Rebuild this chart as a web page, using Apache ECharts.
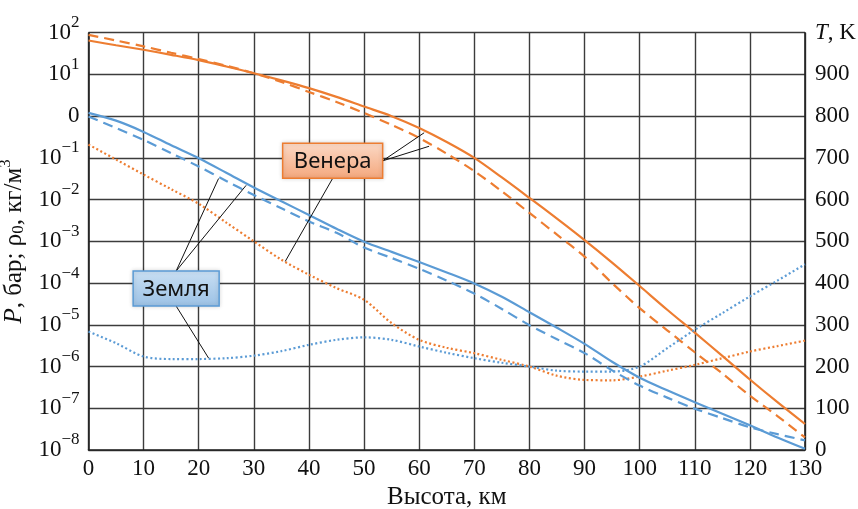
<!DOCTYPE html>
<html>
<head>
<meta charset="utf-8">
<script src="https://cdn.jsdelivr.net/npm/echarts@6/dist/echarts.min.js"></script>
<style>html,body{margin:0;padding:0;background:#fff}#main{width:858px;height:509px}</style>
</head>
<body>
<div id="main"></div>
<script>
// высота, км
var heights = [0, 5, 10, 15, 20, 25, 30, 35, 40, 45, 50, 55, 60, 65, 70, 75, 80, 85, 90, 95, 100, 105, 110, 115, 120, 125, 130];

// Венера
var venusRho = [65, 50, 39, 29.5, 22, 15.5, 10.7, 7.2, 4.7, 2.9, 1.7, 1.0, 0.52, 0.24, 0.10, 3.4e-2, 1.1e-2, 3.5e-3, 1.07e-3, 3.1e-4, 8.5e-5, 2.3e-5, 6.5e-6, 1.8e-6, 4.9e-7, 1.4e-7, 4.2e-8];
var venusP = [89, 65, 47, 33, 23.4, 16.2, 10.7, 6.6, 3.8, 2.19, 1.19, 0.62, 0.30, 0.126, 0.048, 1.58e-2, 4.8e-3, 1.45e-3, 4.3e-4, 1.0e-4, 2.5e-5, 7.4e-6, 2.2e-6, 6.8e-7, 2.0e-7, 6.5e-8, 2.0e-8];
var venusT = [732, 696, 660, 625, 590, 545, 500, 456, 420, 388, 360, 304, 264, 245, 232, 216, 200, 178, 168, 167, 176, 190, 204, 220, 236, 249, 262];

// Земля
var earthRho = [1.2, 0.78, 0.42, 0.20, 0.098, 0.044, 1.95e-2, 9.1e-3, 4.3e-3, 2.0e-3, 9.8e-4, 5.6e-4, 3.2e-4, 1.8e-4, 9.8e-5, 4.7e-5, 2.0e-5, 8.5e-6, 3.5e-6, 1.3e-6, 5.4e-7, 2.7e-7, 1.4e-7, 7.4e-8, 3.9e-8, 2.0e-8, 1.07e-8];
var earthP = [0.98, 0.52, 0.27, 0.13, 0.062, 0.028, 1.29e-2, 6.2e-3, 3.0e-3, 1.6e-3, 7.1e-4, 4.0e-4, 2.2e-4, 1.15e-4, 5.6e-5, 2.4e-5, 9.8e-6, 4.5e-6, 2.1e-6, 8.1e-7, 3.5e-7, 1.8e-7, 9.8e-8, 5.8e-8, 3.5e-8, 2.4e-8, 1.7e-8];
var earthT = [284, 256, 224, 218, 218, 220, 226, 237, 252, 264, 270, 264, 248, 233, 220, 209, 200, 190, 188, 188, 200, 244, 288, 328, 368, 406, 445];

// подписи: центр рамки и концы выносок (км, значение); третья точка — по оси T
var venusBox = [44.3, 0.085];
var venusPts = [[60.9, 0.40], [61.8, 0.19]];
var venusTPt = [35.7, 452];
var earthBox = [15.9, 7.4e-5];
var earthPts = [[23.6, 0.032], [28.6, 0.022]];
var earthTPt = [21.8, 220];

var ORANGE = '#ED7D31';
var BLUE = '#5B9BD5';
var SERIF = '"Liberation Serif", "Times New Roman", serif';
var GRID = '#3c3c3c';

function pairs(vals) {
  return heights.map(function (h, i) { return [h, vals[i]]; });
}

function line(name, vals, color, type, yIdx) {
  return {
    name: name,
    type: 'line',
    yAxisIndex: yIdx,
    data: pairs(vals),
    smooth: 0.3,
    symbol: 'none',
    animation: false,
    lineStyle: { color: color, width: 2.2, type: type }
  };
}

var myChart = echarts.init(document.getElementById('main'));

var option = {
  backgroundColor: '#fff',
  animation: false,
  grid: { left: 88.5, right: 53, top: 32.7, bottom: 59, outerBoundsMode: 'none' },
  xAxis: {
    type: 'value',
    min: 0, max: 130, interval: 10,
    name: 'Высота, км',
    nameLocation: 'middle',
    nameGap: 32,
    nameTextStyle: { fontFamily: SERIF, fontSize: 25, color: '#111' },
    axisLine: { show: true, lineStyle: { color: '#222', width: 1.6 } },
    axisTick: { show: false },
    axisLabel: { fontFamily: SERIF, fontSize: 23, color: '#111', margin: 7 },
    splitLine: { show: true, lineStyle: { color: GRID, width: 1.4 } }
  },
  yAxis: [{
    type: 'log',
    logBase: 10,
    min: 1e-8, max: 100,
    interval: 1,
    splitNumber: 10,
    name: '{i|P}, бар; ρ{sub|0}, кг/м{sup|3}',
    nameLocation: 'middle',
    nameRotate: 90,
    nameGap: 55,
    nameTextStyle: {
      fontFamily: SERIF, fontSize: 25, color: '#111',
      rich: {
        i: { fontFamily: SERIF, fontSize: 25, fontStyle: 'italic', color: '#111' },
        sub: { fontFamily: SERIF, fontSize: 17, color: '#111', padding: [10, 0, 0, 0] },
        sup: { fontFamily: SERIF, fontSize: 17, color: '#111', padding: [0, 0, 16, 0] }
      }
    },
    axisLine: { show: true, lineStyle: { color: '#222', width: 1.6 } },
    axisTick: { show: false },
    axisLabel: {
      margin: 9,
      hideOverlap: false,
      interval: 0,
      formatter: function (v) {
        var e = Math.round(Math.log10(v));
        if (e === 0) return '{b|0}';
        return '{b|10}{s|' + (e < 0 ? '\u2212' + (-e) : e) + '}';
      },
      rich: {
        b: { fontFamily: SERIF, fontSize: 23, color: '#111' },
        s: { fontFamily: SERIF, fontSize: 17, color: '#111', padding: [0, 0, 20, 0] }
      }
    },
    splitLine: { show: true, interval: 0, lineStyle: { color: GRID, width: 1.4 } }
  }, {
    type: 'value',
    min: 0, max: 1000, interval: 100,
    position: 'right',
    axisLine: { show: true, lineStyle: { color: '#222', width: 1.6 } },
    axisTick: { show: false },
    axisLabel: {
      margin: 10,
      fontFamily: SERIF, fontSize: 23, color: '#111',
      formatter: function (v) { return v === 1000 ? '{i|T}, K' : String(v); },
      rich: { i: { fontFamily: SERIF, fontSize: 23, fontStyle: 'italic', color: '#111' } }
    },
    splitLine: { show: false }
  }],
  series: [
    line('Венера ρ', venusRho, ORANGE, 'solid', 0),
    line('Венера P', venusP, ORANGE, [10, 6], 0),
    line('Венера T', venusT, ORANGE, [2, 2.5], 1),
    line('Земля ρ', earthRho, BLUE, 'solid', 0),
    line('Земля P', earthP, BLUE, [10, 6], 0),
    line('Земля T', earthT, BLUE, [2, 2.5], 1)
  ]
};

myChart.setOption(option);

// рамки с подписями и выноски
function px(pt) { return myChart.convertToPixel({ xAxisIndex: 0, yAxisIndex: 0 }, pt); }
function pxT(pt) { return myChart.convertToPixel({ xAxisIndex: 0, yAxisIndex: 1 }, pt); }

function label(text, center, w, h, c1, c2, border) {
  return [{
    type: 'rect', z: 100,
    shape: { x: center[0] - w / 2, y: center[1] - h / 2, width: w, height: h },
    style: {
      fill: new echarts.graphic.LinearGradient(0, 0, 0, 1, [{ offset: 0, color: c1 }, { offset: 1, color: c2 }]),
      stroke: border, lineWidth: 1.5,
      shadowBlur: 4, shadowColor: 'rgba(0,0,0,0.15)'
    }
  }, {
    type: 'text', z: 101,
    x: center[0], y: center[1] + 1,
    style: { text: text, fill: '#111', font: '22px "Noto Sans", sans-serif', align: 'center', verticalAlign: 'middle' }
  }];
}

function leader(a, b) {
  return { type: 'line', z: 99, shape: { x1: a[0], y1: a[1], x2: b[0], y2: b[1] }, style: { stroke: '#111', lineWidth: 1 } };
}

var vc = px(venusBox), ec = px(earthBox);
var vw = 100, vh = 35, ew = 86, eh = 35;
var g = [];
g = g.concat(label('Венера', vc, vw, vh, '#FBD9C6', '#F4A77C', ORANGE));
g = g.concat(label('Земля', ec, ew, eh, '#C9DFF3', '#9BC1E5', BLUE));
venusPts.forEach(function (p) { g.push(leader([vc[0] + vw / 2, vc[1]], px(p))); });
g.push(leader([vc[0], vc[1] + vh / 2], pxT(venusTPt)));
earthPts.forEach(function (p) { g.push(leader([ec[0], ec[1] - eh / 2], px(p))); });
g.push(leader([ec[0], ec[1] + eh / 2], pxT(earthTPt)));

myChart.setOption({ graphic: g });
</script>
</body>
</html>
